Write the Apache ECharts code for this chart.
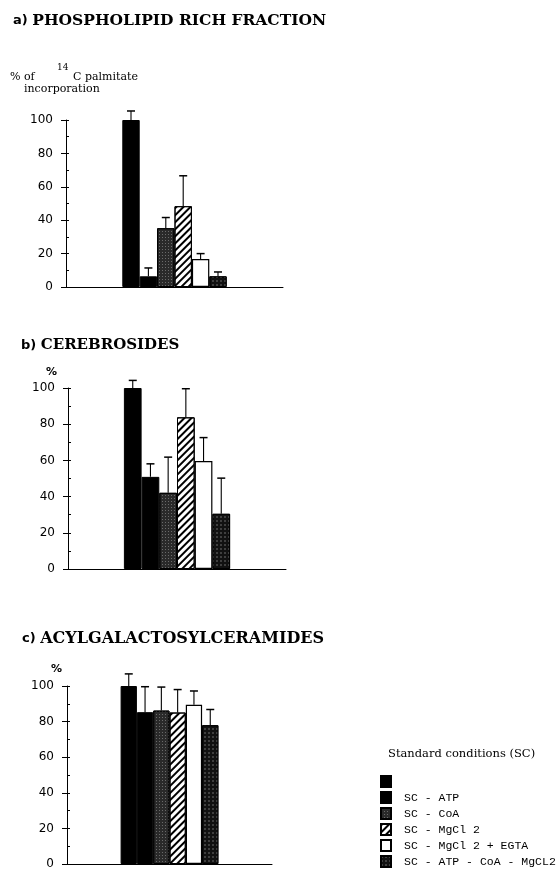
<!DOCTYPE html>
<html>
<head>
<meta charset="utf-8">
<script src="https://cdn.jsdelivr.net/npm/echarts@6/dist/echarts.min.js"></script>
<style>
html,body{margin:0;padding:0;background:#fff;}
#chart{width:558px;height:870px;}
</style>
</head>
<body>
<div id="chart"></div>
<script>
// Conditions (series names)
const conditions = ['SC', 'SC - ATP', 'SC - CoA', 'SC - MgCl 2', 'SC - MgCl 2 + EGTA', 'SC - ATP - CoA - MgCL2'];
// y tick labels
const yTicks = [0, 20, 40, 60, 80, 100];

// a) Phospholipid rich fraction: mean and upper error (SD)
const phosphoMean = [100, 6.4, 35.2, 48.4, 16.8, 6.4];
const phosphoSD   = [5.4, 5.0, 6.4, 18.2, 3.2, 2.6];
// b) Cerebrosides
const cerebMean = [100, 50.9, 42.1, 83.8, 59.6, 30.5];
const cerebSD   = [4.2, 7.2, 19.7, 15.8, 13.0, 19.7];
// c) Acylgalactosylceramides
const acylMean = [100, 85.3, 86.2, 85.1, 89.5, 78.0];
const acylSD   = [6.8, 14.3, 13.2, 12.9, 7.7, 8.8];

const chart = echarts.init(document.getElementById('chart'), null, {renderer: 'canvas'});

const styles = [
  {color: '#000', borderColor: '#000', borderWidth: 1},
  {color: '#000', borderColor: '#000', borderWidth: 1},
  {color: '#2a2a2a', borderColor: '#000', borderWidth: 1,
   decal: {symbol: 'rect', symbolSize: 1, dashArrayX: [1, 2], dashArrayY: [1, 2], color: 'rgba(255,255,255,0.3)'}},
  {color: '#fff', borderColor: '#000', borderWidth: 1,
   decal: {symbol: 'rect', symbolSize: 1, dashArrayX: [[1, 0]], dashArrayY: [1.3, 2.4], rotation: -Math.PI / 4, color: '#000'}},
  {color: '#fff', borderColor: '#000', borderWidth: 1.2},
  {color: '#111', borderColor: '#000', borderWidth: 1,
   decal: {symbol: 'circle', symbolSize: 0.8, dashArrayX: [2, 2], dashArrayY: [2, 2], color: 'rgba(255,255,255,0.45)'}}
];

const panels = [
  {mean: phosphoMean, sd: phosphoSD, grid: {left: 66, top: 120, width: 217, height: 167}, barW: 17.4},
  {mean: cerebMean, sd: cerebSD, grid: {left: 68, top: 388, width: 218, height: 181}, barW: 17.7},
  {mean: acylMean, sd: acylSD, grid: {left: 67, top: 686, width: 205, height: 182}, barW: 16.3}
];

const tickFont = {fontFamily: 'DejaVu Sans', fontSize: 12, color: '#000'};
const grids = [], xAxes = [], yAxes = [], series = [];

panels.forEach((p, k) => {
  grids.push(p.grid);
  xAxes.push({type: 'category', gridIndex: k, data: ['x'],
    axisLine: {lineStyle: {color: '#000', width: 1}}, axisTick: {show: false}, axisLabel: {show: false}});
  yAxes.push({type: 'value', gridIndex: k, min: 0, max: 100, interval: 20,
    axisLine: {show: true, lineStyle: {color: '#000', width: 1}},
    axisTick: {show: true, length: 5, lineStyle: {color: '#000'}},
    axisLabel: Object.assign({margin: 13, formatter: v => yTicks.includes(v) ? String(v) : ''}, tickFont),
    splitLine: {show: false}});
  // minor ticks (inside)
  yAxes.push({type: 'value', gridIndex: k, min: 0, max: 100, interval: 10, position: 'left',
    axisLine: {show: false}, axisLabel: {show: false}, splitLine: {show: false},
    axisTick: {show: true, inside: true, length: 3, lineStyle: {color: '#000'}}});
  conditions.forEach((name, i) => {
    series.push({type: 'bar', name: name, xAxisIndex: k, yAxisIndex: 2 * k,
      data: [p.mean[i]], barWidth: p.barW, barGap: '0%', itemStyle: styles[i], silent: true});
  });
  series.push({type: 'custom', xAxisIndex: k, yAxisIndex: 2 * k, silent: true, clip: false,
    data: p.mean.map((m, i) => [0, m, m + p.sd[i], i]),
    renderItem: (params, api) => {
      const idx = api.value(3);
      const base = api.coord([0, api.value(1)]);
      const top = api.coord([0, api.value(2)]);
      const x = base[0] + (idx - 2.5) * p.barW;
      const cap = 4;
      return {type: 'group', children: [
        {type: 'line', shape: {x1: x, y1: base[1], x2: x, y2: top[1]}, style: {stroke: '#000', lineWidth: 1.1}},
        {type: 'line', shape: {x1: x - cap, y1: top[1], x2: x + cap, y2: top[1]}, style: {stroke: '#000', lineWidth: 1.5}}
      ]};
    }});
});

const serif = 'DejaVu Serif';
const tb = s => ({fontFamily: 'DejaVu Serif', fontWeight: 'bold', fontSize: s, color: '#000'});
const pre = {fontFamily: 'DejaVu Sans', fontSize: 13, color: '#000'};
const small = s => ({fontFamily: serif, fontSize: s, fontWeight: 'normal', color: '#000'});

chart.setOption({
  animation: false,
  backgroundColor: '#fff',
  title: [
    {left: 13, top: 13, padding: 0, text: '{p|a) }{t|PHOSPHOLIPID RICH FRACTION}', textStyle: {rich: {p: pre, t: tb(15.5)}}},
    {left: 21, top: 338, padding: 0, text: '{p|b) }{t|CEREBROSIDES}', textStyle: {rich: {p: pre, t: tb(15)}}},
    {left: 22, top: 631, padding: 0, text: '{p|c) }{t|ACYLGALACTOSYLCERAMIDES}', textStyle: {rich: {p: pre, t: tb(16)}}},
    {left: 10, top: 72, padding: 0, text: '% of', textStyle: small(11)},
    {left: 57, top: 63, padding: 0, text: '14', textStyle: small(9)},
    {left: 73, top: 72, padding: 0, text: 'C palmitate', textStyle: small(11)},
    {left: 24, top: 84, padding: 0, text: 'incorporation', textStyle: small(11)},
    {left: 46, top: 367, padding: 0, text: '%', textStyle: {fontFamily: 'DejaVu Sans', fontSize: 11, fontWeight: 'bold', color: '#000'}},
    {left: 51, top: 664, padding: 0, text: '%', textStyle: {fontFamily: 'DejaVu Sans', fontSize: 11, fontWeight: 'bold', color: '#000'}},
    {left: 388, top: 748, padding: 0, text: 'Standard conditions (SC)', textStyle: small(11.5)}
  ],
  legend: {
    orient: 'vertical', left: 380, top: 775, padding: 0,
    itemWidth: 10, itemHeight: 11, itemGap: 3, icon: 'rect',
    data: conditions,
    formatter: name => name === 'SC' ? '' : name,
    textStyle: {fontFamily: 'Liberation Mono', fontSize: 11.5, color: '#000', padding: [0, 0, 0, 8]},
    selectedMode: false
  },
  grid: grids,
  xAxis: xAxes,
  yAxis: yAxes,
  series: series
});
</script>
</body>
</html>
